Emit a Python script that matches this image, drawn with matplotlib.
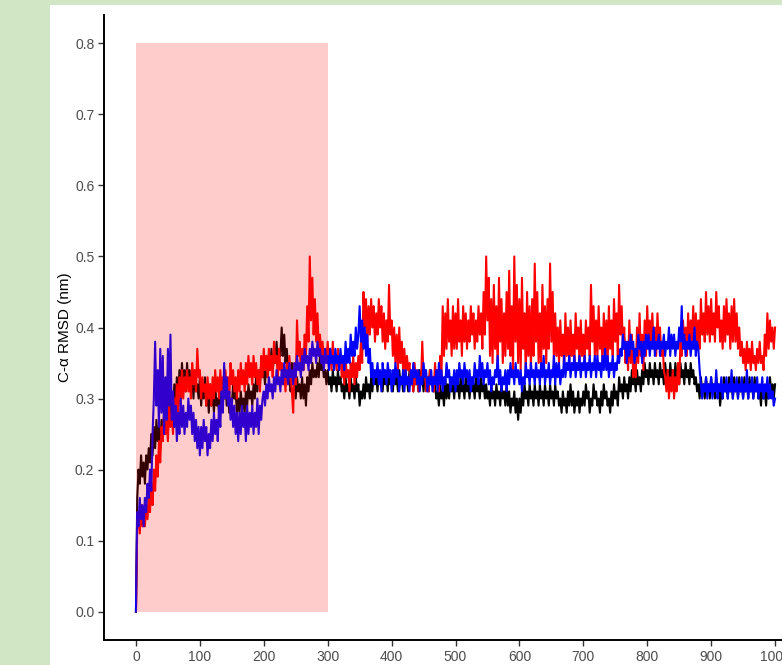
import numpy as np
import matplotlib
matplotlib.use("Agg")
import matplotlib.pyplot as plt
from matplotlib.patches import Rectangle

# ---------------- data: C-alpha RMSD (nm), one value every 2 ns, 0..1000 ns ----------------
rmsd_black = [
    0.00, 0.16, 0.20, 0.18, 0.22, 0.19, 0.21, 0.18, 0.22, 0.20,
    0.23, 0.21, 0.25, 0.22, 0.26, 0.23, 0.27, 0.24, 0.26, 0.23,
    0.27, 0.24, 0.28, 0.25, 0.29, 0.26, 0.31, 0.27, 0.30, 0.28,
    0.32, 0.29, 0.33, 0.30, 0.34, 0.31, 0.35, 0.32, 0.34, 0.31,
    0.35, 0.32, 0.34, 0.31, 0.33, 0.30, 0.34, 0.31, 0.32, 0.30,
    0.33, 0.29, 0.32, 0.30, 0.33, 0.29, 0.31, 0.28, 0.32, 0.29,
    0.31, 0.28, 0.32, 0.29, 0.30, 0.28, 0.31, 0.29, 0.32, 0.30,
    0.32, 0.29, 0.31, 0.28, 0.30, 0.29, 0.32, 0.30, 0.31, 0.28,
    0.30, 0.28, 0.31, 0.29, 0.30, 0.28, 0.31, 0.29, 0.32, 0.30,
    0.31, 0.29, 0.32, 0.30, 0.33, 0.31, 0.34, 0.32, 0.35, 0.33,
    0.34, 0.32, 0.36, 0.33, 0.35, 0.34, 0.37, 0.34, 0.36, 0.35,
    0.38, 0.35, 0.37, 0.36, 0.40, 0.36, 0.39, 0.35, 0.37, 0.34,
    0.33, 0.31, 0.35, 0.32, 0.34, 0.30, 0.33, 0.31, 0.32, 0.30,
    0.33, 0.30, 0.32, 0.29, 0.33, 0.31, 0.34, 0.32, 0.35, 0.33,
    0.34, 0.33, 0.35, 0.33, 0.36, 0.34, 0.35, 0.33, 0.34, 0.32,
    0.34, 0.32, 0.33, 0.31, 0.34, 0.32, 0.33, 0.31, 0.34, 0.32,
    0.33, 0.31, 0.32, 0.30, 0.33, 0.31, 0.32, 0.30, 0.33, 0.31,
    0.32, 0.30, 0.33, 0.31, 0.32, 0.29, 0.31, 0.30, 0.32, 0.30,
    0.33, 0.31, 0.32, 0.30, 0.33, 0.31, 0.34, 0.32, 0.33, 0.31,
    0.34, 0.32, 0.33, 0.31, 0.34, 0.32, 0.33, 0.31, 0.34, 0.32,
    0.33, 0.31, 0.34, 0.32, 0.33, 0.31, 0.34, 0.32, 0.33, 0.31,
    0.34, 0.32, 0.33, 0.31, 0.34, 0.32, 0.33, 0.31, 0.34, 0.32,
    0.33, 0.31, 0.34, 0.32, 0.33, 0.31, 0.34, 0.32, 0.33, 0.31,
    0.34, 0.32, 0.33, 0.31, 0.32, 0.30, 0.31, 0.29, 0.32, 0.30,
    0.31, 0.29, 0.33, 0.30, 0.32, 0.30, 0.33, 0.31, 0.32, 0.30,
    0.33, 0.31, 0.32, 0.30, 0.33, 0.31, 0.32, 0.30, 0.33, 0.31,
    0.32, 0.30, 0.33, 0.31, 0.32, 0.30, 0.33, 0.31, 0.32, 0.30,
    0.33, 0.31, 0.32, 0.30, 0.32, 0.30, 0.31, 0.29, 0.32, 0.30,
    0.31, 0.29, 0.32, 0.30, 0.31, 0.29, 0.32, 0.30, 0.31, 0.29,
    0.32, 0.29, 0.31, 0.28, 0.30, 0.29, 0.31, 0.28, 0.30, 0.27,
    0.30, 0.28, 0.31, 0.29, 0.32, 0.30, 0.31, 0.29, 0.32, 0.30,
    0.31, 0.29, 0.32, 0.30, 0.31, 0.29, 0.32, 0.30, 0.31, 0.29,
    0.32, 0.30, 0.31, 0.29, 0.32, 0.30, 0.31, 0.29, 0.32, 0.30,
    0.31, 0.29, 0.30, 0.28, 0.31, 0.29, 0.30, 0.28, 0.31, 0.29,
    0.32, 0.29, 0.31, 0.28, 0.30, 0.29, 0.31, 0.28, 0.30, 0.29,
    0.31, 0.29, 0.32, 0.30, 0.31, 0.28, 0.30, 0.29, 0.32, 0.30,
    0.31, 0.29, 0.30, 0.28, 0.31, 0.29, 0.32, 0.30, 0.31, 0.29,
    0.30, 0.28, 0.31, 0.29, 0.32, 0.30, 0.31, 0.29, 0.33, 0.31,
    0.32, 0.30, 0.33, 0.31, 0.32, 0.30, 0.33, 0.31, 0.34, 0.32,
    0.33, 0.31, 0.34, 0.32, 0.33, 0.31, 0.34, 0.32, 0.35, 0.33,
    0.34, 0.32, 0.35, 0.33, 0.34, 0.32, 0.35, 0.33, 0.34, 0.32,
    0.35, 0.33, 0.34, 0.32, 0.35, 0.33, 0.34, 0.32, 0.35, 0.33,
    0.34, 0.32, 0.35, 0.33, 0.34, 0.32, 0.35, 0.33, 0.34, 0.32,
    0.35, 0.33, 0.34, 0.32, 0.35, 0.33, 0.34, 0.32, 0.33, 0.31,
    0.32, 0.30, 0.33, 0.31, 0.32, 0.30, 0.33, 0.31, 0.32, 0.30,
    0.33, 0.31, 0.32, 0.30, 0.33, 0.31, 0.32, 0.29, 0.31, 0.30,
    0.33, 0.31, 0.32, 0.30, 0.33, 0.31, 0.32, 0.30, 0.33, 0.31,
    0.32, 0.30, 0.33, 0.31, 0.32, 0.30, 0.33, 0.31, 0.32, 0.30,
    0.33, 0.31, 0.32, 0.30, 0.33, 0.31, 0.32, 0.30, 0.31, 0.29,
    0.32, 0.30, 0.31, 0.29, 0.32, 0.30, 0.33, 0.31, 0.32, 0.30,
    0.32,
]

rmsd_red = [
    0.00, 0.12, 0.14, 0.11, 0.15, 0.12, 0.14, 0.12, 0.15, 0.13,
    0.16, 0.14, 0.18, 0.15, 0.20, 0.17, 0.22, 0.19, 0.24, 0.21,
    0.26, 0.24, 0.28, 0.25, 0.27, 0.24, 0.29, 0.26, 0.28, 0.25,
    0.30, 0.27, 0.32, 0.28, 0.33, 0.29, 0.34, 0.30, 0.33, 0.31,
    0.34, 0.31, 0.33, 0.30, 0.35, 0.32, 0.34, 0.31, 0.37, 0.33,
    0.34, 0.30, 0.33, 0.31, 0.32, 0.29, 0.33, 0.30, 0.32, 0.29,
    0.33, 0.30, 0.34, 0.31, 0.33, 0.30, 0.34, 0.31, 0.33, 0.30,
    0.34, 0.31, 0.33, 0.30, 0.35, 0.32, 0.34, 0.31, 0.33, 0.30,
    0.34, 0.31, 0.35, 0.32, 0.34, 0.31, 0.35, 0.32, 0.36, 0.33,
    0.35, 0.32, 0.36, 0.33, 0.35, 0.32, 0.34, 0.31, 0.36, 0.33,
    0.37, 0.34, 0.36, 0.33, 0.37, 0.34, 0.36, 0.33, 0.38, 0.35,
    0.36, 0.33, 0.37, 0.34, 0.35, 0.32, 0.34, 0.31, 0.35, 0.32,
    0.36, 0.33, 0.31, 0.28, 0.35, 0.32, 0.41, 0.36, 0.38, 0.34,
    0.37, 0.34, 0.39, 0.36, 0.43, 0.38, 0.50, 0.41, 0.47, 0.39,
    0.44, 0.38, 0.42, 0.37, 0.39, 0.36, 0.38, 0.35, 0.37, 0.35,
    0.38, 0.35, 0.37, 0.34, 0.38, 0.35, 0.36, 0.34, 0.37, 0.35,
    0.36, 0.33, 0.35, 0.32, 0.36, 0.33, 0.34, 0.31, 0.35, 0.33,
    0.36, 0.32, 0.35, 0.33, 0.36, 0.34, 0.38, 0.35, 0.45, 0.40,
    0.44, 0.38, 0.43, 0.39, 0.44, 0.40, 0.43, 0.38, 0.42, 0.39,
    0.44, 0.40, 0.43, 0.38, 0.42, 0.37, 0.41, 0.38, 0.46, 0.39,
    0.41, 0.36, 0.40, 0.35, 0.39, 0.34, 0.40, 0.35, 0.38, 0.34,
    0.37, 0.33, 0.36, 0.34, 0.35, 0.32, 0.34, 0.31, 0.35, 0.32,
    0.34, 0.31, 0.33, 0.32, 0.38, 0.33, 0.34, 0.31, 0.33, 0.31,
    0.34, 0.32, 0.33, 0.31, 0.35, 0.32, 0.34, 0.31, 0.36, 0.33,
    0.43, 0.36, 0.42, 0.37, 0.44, 0.38, 0.41, 0.36, 0.43, 0.37,
    0.42, 0.37, 0.44, 0.38, 0.41, 0.36, 0.43, 0.38, 0.42, 0.37,
    0.41, 0.38, 0.43, 0.39, 0.42, 0.37, 0.41, 0.38, 0.43, 0.39,
    0.42, 0.37, 0.45, 0.39, 0.50, 0.41, 0.47, 0.36, 0.44, 0.35,
    0.46, 0.37, 0.43, 0.34, 0.47, 0.38, 0.44, 0.35, 0.42, 0.36,
    0.45, 0.37, 0.48, 0.36, 0.43, 0.34, 0.50, 0.38, 0.46, 0.35,
    0.44, 0.34, 0.47, 0.37, 0.42, 0.33, 0.45, 0.36, 0.43, 0.34,
    0.44, 0.36, 0.49, 0.38, 0.45, 0.35, 0.42, 0.34, 0.46, 0.37,
    0.43, 0.35, 0.44, 0.37, 0.49, 0.38, 0.45, 0.35, 0.42, 0.36,
    0.40, 0.35, 0.41, 0.36, 0.39, 0.34, 0.42, 0.36, 0.40, 0.35,
    0.41, 0.36, 0.39, 0.35, 0.42, 0.37, 0.40, 0.35, 0.41, 0.36,
    0.39, 0.35, 0.41, 0.37, 0.40, 0.36, 0.46, 0.38, 0.43, 0.36,
    0.41, 0.36, 0.43, 0.37, 0.40, 0.35, 0.42, 0.36, 0.41, 0.35,
    0.43, 0.37, 0.41, 0.36, 0.44, 0.38, 0.42, 0.36, 0.46, 0.39,
    0.43, 0.37, 0.40, 0.35, 0.38, 0.34, 0.41, 0.35, 0.39, 0.33,
    0.37, 0.33, 0.40, 0.35, 0.42, 0.36, 0.39, 0.34, 0.41, 0.36,
    0.43, 0.37, 0.41, 0.38, 0.42, 0.37, 0.40, 0.36, 0.42, 0.38,
    0.40, 0.36, 0.38, 0.34, 0.33, 0.31, 0.34, 0.30, 0.33, 0.31,
    0.34, 0.30, 0.33, 0.31, 0.35, 0.32, 0.38, 0.36, 0.41, 0.37,
    0.40, 0.36, 0.42, 0.37, 0.41, 0.38, 0.43, 0.37, 0.42, 0.38,
    0.41, 0.37, 0.44, 0.39, 0.42, 0.38, 0.45, 0.39, 0.43, 0.38,
    0.44, 0.39, 0.42, 0.38, 0.45, 0.40, 0.43, 0.38, 0.41, 0.37,
    0.43, 0.38, 0.44, 0.39, 0.42, 0.37, 0.43, 0.38, 0.44, 0.38,
    0.42, 0.37, 0.40, 0.36, 0.38, 0.35, 0.37, 0.34, 0.38, 0.35,
    0.37, 0.34, 0.38, 0.35, 0.36, 0.34, 0.37, 0.35, 0.38, 0.35,
    0.36, 0.34, 0.39, 0.36, 0.42, 0.37, 0.41, 0.38, 0.40, 0.37,
    0.40,
]

rmsd_blue = [
    0.00, 0.14, 0.12, 0.16, 0.13, 0.15, 0.12, 0.16, 0.14, 0.18,
    0.16, 0.20, 0.17, 0.25, 0.30, 0.38, 0.29, 0.34, 0.26, 0.37,
    0.28, 0.36, 0.25, 0.33, 0.27, 0.37, 0.29, 0.39, 0.27, 0.31,
    0.26, 0.29, 0.24, 0.28, 0.25, 0.30, 0.26, 0.29, 0.25, 0.28,
    0.26, 0.30, 0.27, 0.29, 0.25, 0.28, 0.24, 0.27, 0.23, 0.26,
    0.22, 0.26, 0.23, 0.27, 0.24, 0.26, 0.22, 0.25, 0.23, 0.27,
    0.24, 0.28, 0.25, 0.27, 0.24, 0.29, 0.26, 0.31, 0.28, 0.35,
    0.30, 0.33, 0.29, 0.31, 0.27, 0.30, 0.26, 0.29, 0.25, 0.28,
    0.24, 0.28, 0.25, 0.29, 0.26, 0.28, 0.24, 0.29, 0.25, 0.28,
    0.26, 0.29, 0.25, 0.28, 0.26, 0.30, 0.25, 0.29, 0.27, 0.30,
    0.31, 0.29, 0.32, 0.30, 0.33, 0.31, 0.32, 0.30, 0.33, 0.31,
    0.34, 0.32, 0.33, 0.31, 0.34, 0.32, 0.35, 0.33, 0.34, 0.32,
    0.35, 0.33, 0.34, 0.32, 0.35, 0.33, 0.36, 0.34, 0.35, 0.33,
    0.36, 0.34, 0.37, 0.35, 0.36, 0.34, 0.37, 0.35, 0.38, 0.36,
    0.37, 0.35, 0.38, 0.36, 0.37, 0.35, 0.36, 0.34, 0.37, 0.35,
    0.36, 0.34, 0.37, 0.35, 0.36, 0.34, 0.37, 0.35, 0.36, 0.34,
    0.37, 0.35, 0.36, 0.34, 0.38, 0.35, 0.37, 0.35, 0.39, 0.36,
    0.38, 0.36, 0.40, 0.37, 0.39, 0.43, 0.38, 0.41, 0.37, 0.40,
    0.36, 0.39, 0.35, 0.37, 0.33, 0.35, 0.32, 0.34, 0.33, 0.35,
    0.32, 0.34, 0.31, 0.35, 0.33, 0.34, 0.32, 0.35, 0.33, 0.34,
    0.31, 0.34, 0.32, 0.35, 0.33, 0.34, 0.31, 0.33, 0.32, 0.34,
    0.31, 0.34, 0.32, 0.33, 0.31, 0.34, 0.32, 0.35, 0.33, 0.34,
    0.32, 0.34, 0.31, 0.33, 0.32, 0.35, 0.33, 0.34, 0.31, 0.33,
    0.32, 0.34, 0.31, 0.33, 0.32, 0.34, 0.31, 0.35, 0.32, 0.34,
    0.31, 0.33, 0.32, 0.35, 0.33, 0.34, 0.31, 0.33, 0.32, 0.34,
    0.31, 0.34, 0.32, 0.35, 0.33, 0.34, 0.32, 0.35, 0.33, 0.34,
    0.32, 0.34, 0.31, 0.33, 0.32, 0.35, 0.33, 0.34, 0.32, 0.36,
    0.33, 0.35, 0.32, 0.34, 0.33, 0.35, 0.32, 0.34, 0.31, 0.33,
    0.32, 0.34, 0.33, 0.36, 0.32, 0.34, 0.31, 0.33, 0.32, 0.34,
    0.31, 0.34, 0.32, 0.35, 0.33, 0.34, 0.32, 0.35, 0.33, 0.34,
    0.32, 0.34, 0.31, 0.33, 0.32, 0.35, 0.33, 0.34, 0.32, 0.35,
    0.33, 0.34, 0.32, 0.35, 0.33, 0.34, 0.32, 0.35, 0.33, 0.36,
    0.32, 0.34, 0.33, 0.35, 0.32, 0.34, 0.33, 0.36, 0.32, 0.35,
    0.33, 0.35, 0.32, 0.34, 0.33, 0.36, 0.33, 0.35, 0.34, 0.36,
    0.33, 0.35, 0.34, 0.36, 0.33, 0.35, 0.34, 0.36, 0.33, 0.35,
    0.34, 0.36, 0.33, 0.35, 0.34, 0.36, 0.33, 0.35, 0.34, 0.36,
    0.33, 0.36, 0.34, 0.35, 0.33, 0.36, 0.34, 0.37, 0.34, 0.36,
    0.33, 0.35, 0.34, 0.36, 0.33, 0.35, 0.34, 0.36, 0.35, 0.37,
    0.36, 0.39, 0.37, 0.38, 0.35, 0.38, 0.36, 0.39, 0.37, 0.38,
    0.35, 0.37, 0.36, 0.39, 0.37, 0.38, 0.35, 0.38, 0.36, 0.39,
    0.37, 0.39, 0.36, 0.38, 0.37, 0.40, 0.36, 0.38, 0.37, 0.39,
    0.36, 0.38, 0.37, 0.39, 0.36, 0.38, 0.37, 0.40, 0.36, 0.39,
    0.37, 0.39, 0.36, 0.38, 0.37, 0.40, 0.38, 0.43, 0.37, 0.39,
    0.36, 0.38, 0.37, 0.39, 0.36, 0.38, 0.37, 0.40, 0.36, 0.38,
    0.37, 0.34, 0.32, 0.30, 0.32, 0.31, 0.33, 0.30, 0.32, 0.31,
    0.33, 0.30, 0.32, 0.31, 0.34, 0.30, 0.32, 0.31, 0.33, 0.30,
    0.32, 0.31, 0.33, 0.30, 0.32, 0.31, 0.34, 0.30, 0.32, 0.31,
    0.33, 0.30, 0.32, 0.31, 0.33, 0.30, 0.32, 0.31, 0.34, 0.30,
    0.32, 0.31, 0.33, 0.30, 0.32, 0.31, 0.33, 0.30, 0.32, 0.31,
    0.33, 0.30, 0.32, 0.31, 0.33, 0.30, 0.32, 0.30, 0.31, 0.29,
    0.30,
]

SIM_LENGTH_NS = 1000
x_ticks = [0, 100, 200, 300, 400, 500, 600, 700, 800, 900, 1000]
y_ticks = [0.0, 0.1, 0.2, 0.3, 0.4, 0.5, 0.6, 0.7, 0.8]
highlight_ns = (0, 300)
highlight_rmsd = (0.0, 0.8)

# ---------------- style ----------------
BG_GREEN = "#d1e6c4"
TICK_GREY = "#4d4d4d"
plt.rcParams["font.family"] = ["Liberation Sans", "DejaVu Sans"]

W, H = 782, 665
fig = plt.figure(figsize=(W / 100, H / 100), dpi=100)
fig.patch.set_facecolor(BG_GREEN)
# white panel (page area)
fig.patches.append(Rectangle((50 / W, 0), 1 - 50 / W, (H - 5) / H,
                             transform=fig.transFigure, facecolor="white",
                             edgecolor="none", zorder=0))

ax = fig.add_axes([104 / W, (H - 640) / H, (807 - 104) / W, (640 - 15) / H])
ax.set_zorder(2)
ax.set_facecolor("none")

for series, colour in [(rmsd_black, "black"), (rmsd_red, "red"), (rmsd_blue, "blue")]:
    t = np.linspace(0, SIM_LENGTH_NS, len(series))
    ax.plot(t, series, color=colour, linewidth=1.5, zorder=2)

# translucent highlight over the equilibration window
ax.fill_between(highlight_ns, highlight_rmsd[0], highlight_rmsd[1],
                color="red", alpha=0.2, linewidth=0, zorder=3)

ax.set_xlim(-50, 1050)
ax.set_ylim(-0.04, 0.84)
ax.set_xticks(x_ticks)
ax.set_yticks(y_ticks)
ax.set_yticklabels([f"{v:.1f}" for v in y_ticks])

for side in ("top", "right"):
    ax.spines[side].set_visible(False)
for side in ("left", "bottom"):
    ax.spines[side].set_linewidth(1.4)
    ax.spines[side].set_color("black")

ax.tick_params(axis="both", length=4, width=1, color="#333333",
               labelsize=10, labelcolor=TICK_GREY, pad=3)

ax.set_ylabel("C-α RMSD (nm)", fontsize=11, color="black")
ax.yaxis.set_label_coords(-0.046, 0.5)

fig.savefig("out.png", dpi=100, facecolor=fig.get_facecolor())
